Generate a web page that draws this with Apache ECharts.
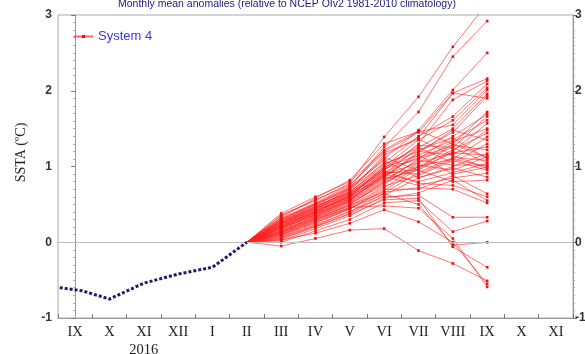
<!DOCTYPE html>
<html>
<head>
<meta charset="utf-8">
<script src="https://cdn.jsdelivr.net/npm/echarts@6/dist/echarts.min.js"></script>
<style>html,body{margin:0;padding:0;background:#fff}#c{width:585px;height:354px}</style>
</head>
<body>
<div id="c"></div>
<script>
// Month tick labels (category axis)
var months = ['IX','X','XI','XII','I','II','III','IV','V','VI','VII','VIII','IX','X','XI'];
var yearLabelIndex = 2; // "2016" under XI
var yearLabel = '2016';

// Observed SSTA (dotted navy line); positions in category units
var obsPos = [-0.45, 0.2, 1, 2, 3, 4, 5];
var obsVal = [-0.60, -0.64, -0.75, -0.54, -0.42, -0.33, 0.00];

// Forecast start (month II index) and forecast month indices III..IX
var fcStartPos = 5;
var fcStartVal = 0.0;
var fcPos = [6, 7, 8, 9, 10, 11, 12];

// System 4 ensemble members: values at III, IV, V, VI, VII, VIII, IX
var members = [
 [0.35,0.55,0.78,1.39,1.92,2.58,3.15],
 [0.30,0.50,0.72,1.26,1.72,2.45,2.92],
 [0.25,0.45,0.70,1.10,1.48,2.01,2.50],
 [0.38,0.60,0.80,1.20,1.45,1.97,2.16],
 [0.20,0.40,0.62,0.95,1.30,1.88,2.13],
 [0.28,0.48,0.66,1.05,1.40,1.66,2.09],
 [0.22,0.42,0.60,1.00,1.35,1.61,2.04],
 [0.33,0.58,0.82,1.30,1.46,1.55,2.01],
 [0.15,0.35,0.55,0.90,1.25,1.50,1.96],
 [0.18,0.38,0.58,0.85,1.20,1.45,1.93],
 [0.26,0.47,0.68,1.15,1.38,1.97,1.90],
 [0.31,0.52,0.75,1.22,1.47,1.30,1.72],
 [0.12,0.30,0.50,0.80,1.10,1.40,1.69],
 [0.24,0.44,0.64,0.98,1.28,1.25,1.66],
 [0.19,0.36,0.56,0.88,1.15,1.35,1.61],
 [0.29,0.49,0.71,1.12,0.95,1.20,1.57],
 [0.14,0.33,0.52,0.76,1.05,1.33,1.50],
 [0.36,0.56,0.76,1.18,1.36,1.15,1.48],
 [0.10,0.28,0.46,0.72,1.00,1.22,1.44],
 [0.23,0.43,0.63,0.93,0.90,1.10,1.39],
 [0.17,0.37,0.57,0.86,1.18,1.48,1.35],
 [0.27,0.46,0.66,1.02,1.25,1.05,1.30],
 [0.08,0.25,0.44,0.68,0.98,1.18,1.26],
 [0.21,0.41,0.60,0.92,1.12,1.28,1.22],
 [0.32,0.51,0.73,1.08,0.85,1.00,1.17],
 [0.13,0.32,0.50,0.78,1.02,0.95,1.13],
 [0.25,0.44,0.65,0.96,1.22,1.38,1.10],
 [0.06,0.22,0.40,0.65,0.92,1.12,1.08],
 [0.20,0.39,0.59,0.90,0.80,0.92,1.04],
 [0.16,0.34,0.54,0.82,1.08,1.02,1.02],
 [0.28,0.47,0.67,0.99,1.15,0.90,0.99],
 [0.11,0.29,0.48,0.74,0.88,1.08,0.95],
 [0.22,0.40,0.61,0.87,0.75,0.85,0.91],
 [0.04,0.20,0.38,0.62,0.85,0.98,0.86],
 [0.18,0.36,0.55,0.84,0.95,0.80,0.82],
 [0.09,0.26,0.44,0.70,0.70,0.88,0.64],
 [0.26,0.45,0.64,0.94,0.78,0.75,0.60],
 [0.02,0.18,0.35,0.58,0.65,0.82,0.55],
 [0.14,0.31,0.49,0.66,0.72,0.70,0.52],
 [0.07,0.23,0.41,0.60,0.62,0.33,0.33],
 [0.00,0.15,0.30,0.52,0.55,0.14,0.28],
 [0.10,0.27,0.45,0.64,0.50,-0.04,0.00],
 [0.05,0.21,0.37,0.56,0.58,-0.06,-0.33],
 [-0.05,0.05,0.16,0.18,-0.11,-0.28,-0.51],
 [0.03,0.12,0.25,0.43,0.27,0.00,-0.55],
 [0.12,0.30,0.46,0.48,0.45,0.05,-0.59],
 [0.19,0.38,0.57,0.89,1.05,1.18,1.15],
 [0.24,0.42,0.62,0.97,1.10,1.25,1.05],
 [0.15,0.33,0.53,0.80,1.00,1.10,1.00],
 [0.30,0.50,0.70,1.04,1.20,1.15,0.97],
 [0.21,0.40,0.60,0.91,0.96,1.30,1.12]
];

var titleText = 'Monthly mean anomalies (relative to NCEP OIv2 1981-2010 climatology)';
var yName = 'SSTA (ºC)';
var seriesName = 'System 4';

var series = [];
members.forEach(function (m) {
  var d = [{ value: [fcStartPos, fcStartVal], symbolSize: 0 }];
  m.forEach(function (v, i) { d.push([fcPos[i], v]); });
  series.push({
    name: seriesName, type: 'line', xAxisIndex: 1, yAxisIndex: 0,
    data: d, symbol: 'rect', symbolSize: 2.6, showSymbol: true,
    lineStyle: { color: 'rgba(255,30,30,0.68)', width: 0.9 },
    itemStyle: { color: '#ee1111' },
    silent: true, animation: false, clip: true
  });
});
series.push({
  name: 'obs', type: 'line', xAxisIndex: 1, yAxisIndex: 0,
  data: obsPos.map(function (p, i) { return [p, obsVal[i]]; }),
  symbol: 'none',
  lineStyle: { color: '#1c1c6a', width: 3, type: [3, 2], cap: 'butt' },
  z: 5, animation: false,
  markLine: {
    silent: true, symbol: 'none', label: { show: false },
    lineStyle: { color: '#bdbdbd', width: 1, type: 'solid' },
    data: [{ yAxis: 0 }]
  }
});

var chart = echarts.init(document.getElementById('c'), null, { renderer: 'canvas' });
chart.setOption({
  animation: false,
  backgroundColor: '#fff',
  title: {
    text: titleText, left: 113, top: -6,
    textStyle: { fontSize: 10.5, fontWeight: 'normal', color: '#1a1a80', fontFamily: 'Liberation Sans' }
  },
  legend: {
    data: [seriesName], left: 68, top: 25, itemWidth: 19, itemHeight: 4, itemGap: 6,
    textStyle: { color: '#3a3ae0', fontSize: 13, fontFamily: 'Liberation Sans' }
  },
  grid: { left: 58, right: 12, top: 15, bottom: 36, show: true, borderColor: '#aaaaaa', borderWidth: 1, outerBoundsMode: 'none', containLabel: false },
  xAxis: [{
    type: 'category', data: months, boundaryGap: true,
    axisLine: { onZero: false, lineStyle: { color: '#999' } },
    axisTick: { show: true, inside: true, length: 4, interval: 0, lineStyle: { color: '#777' } },
    axisLabel: {
      interval: 0, color: '#222', fontFamily: 'Liberation Serif', fontSize: 14.5, margin: 5, lineHeight: 18,
      formatter: function (v, i) { return i === yearLabelIndex ? v + '\n' + yearLabel : v; },
      rich: {}
    },
    splitLine: { show: false }
  }, {
    type: 'value', min: -0.5, max: 14.5, show: false
  }],
  yAxis: [{
    type: 'value', min: -1, max: 3, interval: 1, position: 'left',
    name: yName, nameLocation: 'middle', nameGap: 30, nameRotate: 90,
    nameTextStyle: { fontFamily: 'Liberation Serif', fontSize: 14, color: '#222', padding: [0, 0, 0, 28] },
    axisLine: { show: true, lineStyle: { color: '#999' } },
    axisTick: { show: true, length: 4, lineStyle: { color: '#777' } },
    minorTick: { show: true, splitNumber: 10, length: 2, lineStyle: { color: '#aaa' } },
    axisLabel: { color: '#333', fontFamily: 'Liberation Sans', fontWeight: 'bold', fontSize: 12, margin: 6 },
    splitLine: { show: false }
  }, {
    type: 'value', min: -1, max: 3, interval: 1, position: 'right',
    axisLine: { show: true, lineStyle: { color: '#999' } },
    axisTick: { show: true, length: 4, lineStyle: { color: '#777' } },
    minorTick: { show: true, splitNumber: 10, length: 2, lineStyle: { color: '#aaa' } },
    axisLabel: { color: '#333', fontFamily: 'Liberation Sans', fontWeight: 'bold', fontSize: 12, margin: 2 },
    splitLine: { show: false }
  }],
  series: series
});
</script>
</body>
</html>
